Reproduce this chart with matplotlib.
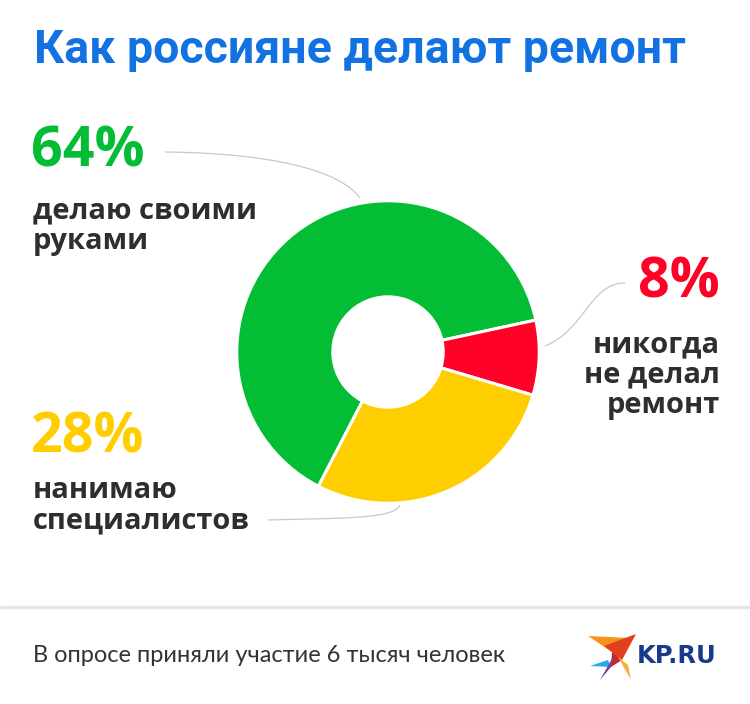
import matplotlib.pyplot as plt
from matplotlib.patches import Polygon
from matplotlib.path import Path
from matplotlib.patches import PathPatch

W, H = 750, 704

title = 'Как россияне делают ремонт'
footer = 'В опросе приняли участие 6 тысяч человек'
shares = [64, 8, 28]
pct_labels = ['64%', '8%', '28%']
cat_labels = ['делаю своими\nруками', 'никогда\nне делал\nремонт', 'нанимаю\nспециалистов']
colors = ['#03BE34', '#FF0027', '#FFCE00']

fig = plt.figure(figsize=(W / 100, H / 100), dpi=100)
fig.patch.set_facecolor('white')

# full-figure axes in pixel coords for texts and lines
bg = fig.add_axes([0, 0, 1, 1])
bg.set_xlim(0, W)
bg.set_ylim(H, 0)
bg.axis('off')

# donut
cx, cy, r = 388, 352, 152
ax = fig.add_axes([(cx - r) / W, (H - cy - r) / H, 2 * r / W, 2 * r / H])
ax.pie(shares, colors=colors, startangle=242.6, counterclock=False, radius=1,
       wedgeprops=dict(width=0.635, edgecolor='white', linewidth=2.2))
ax.set_xlim(-1.005, 1.005)
ax.set_ylim(-1.005, 1.005)
ax.set_aspect('equal')
ax.axis('off')

bg.text(34, 50, title, fontsize=33.5, fontweight='bold', color='#1372E2',
        family=['Liberation Sans Narrow', 'Roboto', 'DejaVu Sans'], va='center', ha='left')

lab_font = ['Open Sans', 'DejaVu Sans']
dark = '#2E2E2E'
# 64%
bg.text(31, 152, pct_labels[0], fontsize=40, fontweight='bold', color=colors[0],
        family=lab_font, va='center', ha='left')
bg.text(33, 226, cat_labels[0], fontsize=21, fontweight='bold', color=dark,
        family=lab_font, va='center', ha='left', linespacing=1.05)
# 8%
bg.text(720, 283, pct_labels[1], fontsize=40, fontweight='bold', color=colors[1],
        family=lab_font, va='center', ha='right')
bg.text(720, 375, cat_labels[1], fontsize=21, fontweight='bold', color=dark,
        family=lab_font, va='center', ha='right', linespacing=1.05)
# 28%
bg.text(31, 438, pct_labels[2], fontsize=40, fontweight='bold', color=colors[2],
        family=lab_font, va='center', ha='left')
bg.text(33, 506, cat_labels[2], fontsize=21, fontweight='bold', color=dark,
        family=lab_font, va='center', ha='left', linespacing=1.05)

# leader curves
def curve(p0, c1, c2, p1):
    path = Path([p0, c1, c2, p1], [Path.MOVETO, Path.CURVE4, Path.CURVE4, Path.CURVE4])
    bg.add_patch(PathPatch(path, fc='none', ec='#C8C8C8', lw=0.9))

curve((165, 152), (270, 153), (340, 170), (360, 198))
curve((545, 346), (585, 330), (590, 283), (625, 283))
curve((268, 520), (330, 518), (395, 520), (400, 505))

# footer
bg.plot([0, W], [607, 607], color='#E6E6E6', lw=2.5, solid_capstyle='butt')
bg.text(33, 656, footer, fontsize=17, color='#333333',
        family=['Lato', 'DejaVu Sans'], va='center', ha='left')

# logo bird
bird = [
    ([(588, 636), (630, 638), (612, 652)], '#F7931E'),
    ([(604, 646), (636, 634), (622, 660)], '#E2401C'),
    ([(612, 652), (622, 660), (611, 667)], '#C1272D'),
    ([(611, 667), (608, 660), (590, 666)], '#29ABE2'),
    ([(611, 667), (614, 655), (600, 680)], '#7B3FA0'),
    ([(618, 657), (628, 665), (631, 680)], '#FBB03B'),
]
for pts, c in bird:
    bg.add_patch(Polygon(pts, closed=True, fc=c, ec='none'))
bg.text(637, 656, 'KP.RU', fontsize=17.5, fontweight='heavy', color='#173A8C',
        family=['DejaVu Sans'], va='center', ha='left')

fig.savefig('out.png', dpi=100, facecolor='white')
